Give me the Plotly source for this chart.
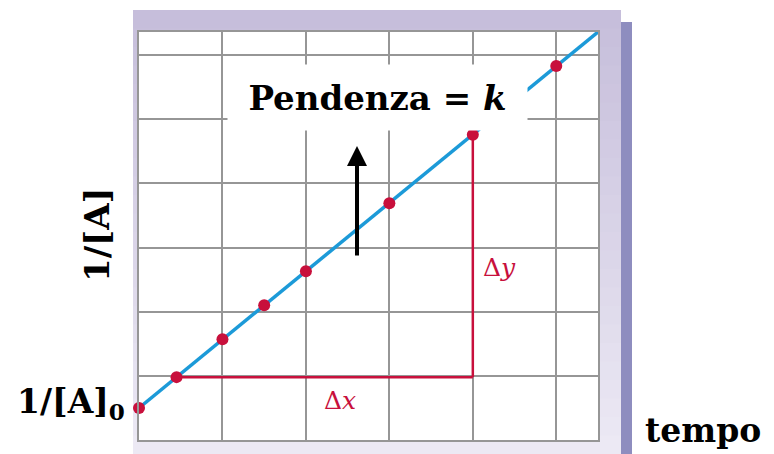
import plotly.graph_objects as go

# ---- data (grid units) ----
time_pts = [0, 0.45, 1, 1.5, 2, 3, 4, 5]
inv_A = [0.5, 0.98, 1.57, 2.1, 2.63, 3.69, 4.76, 5.83]
line_x = [0, 5.5]
line_y = [0.5, 6.36]
dx_x = [0.45, 4]
dx_y = [0.98, 0.98]
dy_x = [4, 4]
dy_y = [0.98, 4.76]
x_range = [0, 5.5]
y_range = [0, 6.36]

# page has an 8px body margin, so the figure is drawn 8px smaller and offset
OFF = 8
W, H = 774 - OFF, 454 - OFF
L, R, T, B = 139, 598, 32, 440  # plot area in reference (page) pixels


def fx(px):
    return (px - L) / (R - L)


def fy(py):
    return (B - py) / (B - T)


RED = "#c8103c"
BLUE = "#1c9ad8"
GRID = "#969696"

fig = go.Figure()
fig.add_trace(go.Scatter(x=dx_x, y=dx_y, mode="lines", line=dict(color=RED, width=2.5),
                         hoverinfo="skip", showlegend=False))
fig.add_trace(go.Scatter(x=dy_x, y=dy_y, mode="lines", line=dict(color=RED, width=2.5),
                         hoverinfo="skip", showlegend=False))
fig.add_trace(go.Scatter(x=line_x, y=line_y, mode="lines", line=dict(color=BLUE, width=3.5),
                         hoverinfo="skip", showlegend=False, cliponaxis=False))
fig.add_trace(go.Scatter(x=time_pts, y=inv_A, mode="markers",
                         marker=dict(color=RED, size=12, line=dict(width=0)),
                         showlegend=False, cliponaxis=False))

# background panel with vertical gradient
shapes = []
top_c = (198, 190, 219)
bot_c = (236, 233, 244)
y0p, y1p = 10, 454
n = 24
for i in range(n):
    t = i / (n - 1)
    c = tuple(round(top_c[k] + (bot_c[k] - top_c[k]) * t) for k in range(3))
    a = y0p + (y1p - y0p) * i / n
    b = y0p + (y1p - y0p) * (i + 1) / n + 0.5
    shapes.append(dict(type="rect", xref="paper", yref="paper", layer="below",
                       x0=fx(133), x1=fx(621), y0=fy(a), y1=fy(b),
                       fillcolor="rgb(%d,%d,%d)" % c, line=dict(width=0)))
shapes.append(dict(type="rect", xref="paper", yref="paper", layer="below",
                   x0=fx(621), x1=fx(632), y0=fy(22), y1=fy(454),
                   fillcolor="#8e8dbf", line=dict(width=0)))
shapes.append(dict(type="rect", xref="paper", yref="paper", layer="below",
                   x0=0, x1=1, y0=0, y1=1, fillcolor="white", line=dict(width=0)))

serif = "DejaVu Serif"
ann = [
    dict(x=fx(377.5), y=fy(97.5), xref="paper", yref="paper", showarrow=False,
         text="<b>Pendenza = <i>k</i></b>", font=dict(family=serif, size=34, color="black"),
         bgcolor="white", width=299, height=65, borderpad=0, xanchor="center", yanchor="middle"),
    dict(x=fx(357), y=fy(146), xref="paper", yref="paper", ax=0, ay=111, text="",
         showarrow=True, arrowhead=2, arrowsize=1, arrowwidth=4, arrowcolor="black", standoff=0),
    dict(x=fx(97), y=fy(235), xref="paper", yref="paper", showarrow=False, textangle=-90,
         text="<b>1/[A]</b>", font=dict(family=serif, size=34, color="black"),
         xanchor="center", yanchor="middle"),
    dict(x=fx(127), y=fy(403), xref="paper", yref="paper", showarrow=False,
         text="<b>1/[A]<sub>0</sub></b>", font=dict(family=serif, size=33, color="black"),
         xanchor="right", yanchor="middle"),
    dict(x=fx(703), y=fy(430), xref="paper", yref="paper", showarrow=False,
         text="<b>tempo</b>", font=dict(family=serif, size=33, color="black"),
         xanchor="center", yanchor="middle"),
    dict(x=fx(340), y=fy(400), xref="paper", yref="paper", showarrow=False,
         text="Δ<i>x</i>", font=dict(family=serif, size=25, color=RED),
         xanchor="center", yanchor="middle"),
    dict(x=fx(499), y=fy(267), xref="paper", yref="paper", showarrow=False,
         text="Δ<i>y</i>", font=dict(family=serif, size=25, color=RED),
         xanchor="center", yanchor="middle"),
]

axis_common = dict(showticklabels=False, ticks="", showgrid=True, gridcolor=GRID, gridwidth=1.5,
                   showline=True, mirror=True, linecolor=GRID, linewidth=1.5, zeroline=False,
                   tick0=0, dtick=1, fixedrange=True)
fig.update_layout(
    width=W, height=H, autosize=False,
    margin=dict(l=L - OFF, r=(774 - R), t=T - OFF, b=(454 - B), pad=0),
    paper_bgcolor="white", plot_bgcolor="white",
    xaxis=dict(range=x_range, **axis_common),
    yaxis=dict(range=y_range, **axis_common),
    shapes=shapes, annotations=ann, showlegend=False,
)
fig.write_html("out.html")
